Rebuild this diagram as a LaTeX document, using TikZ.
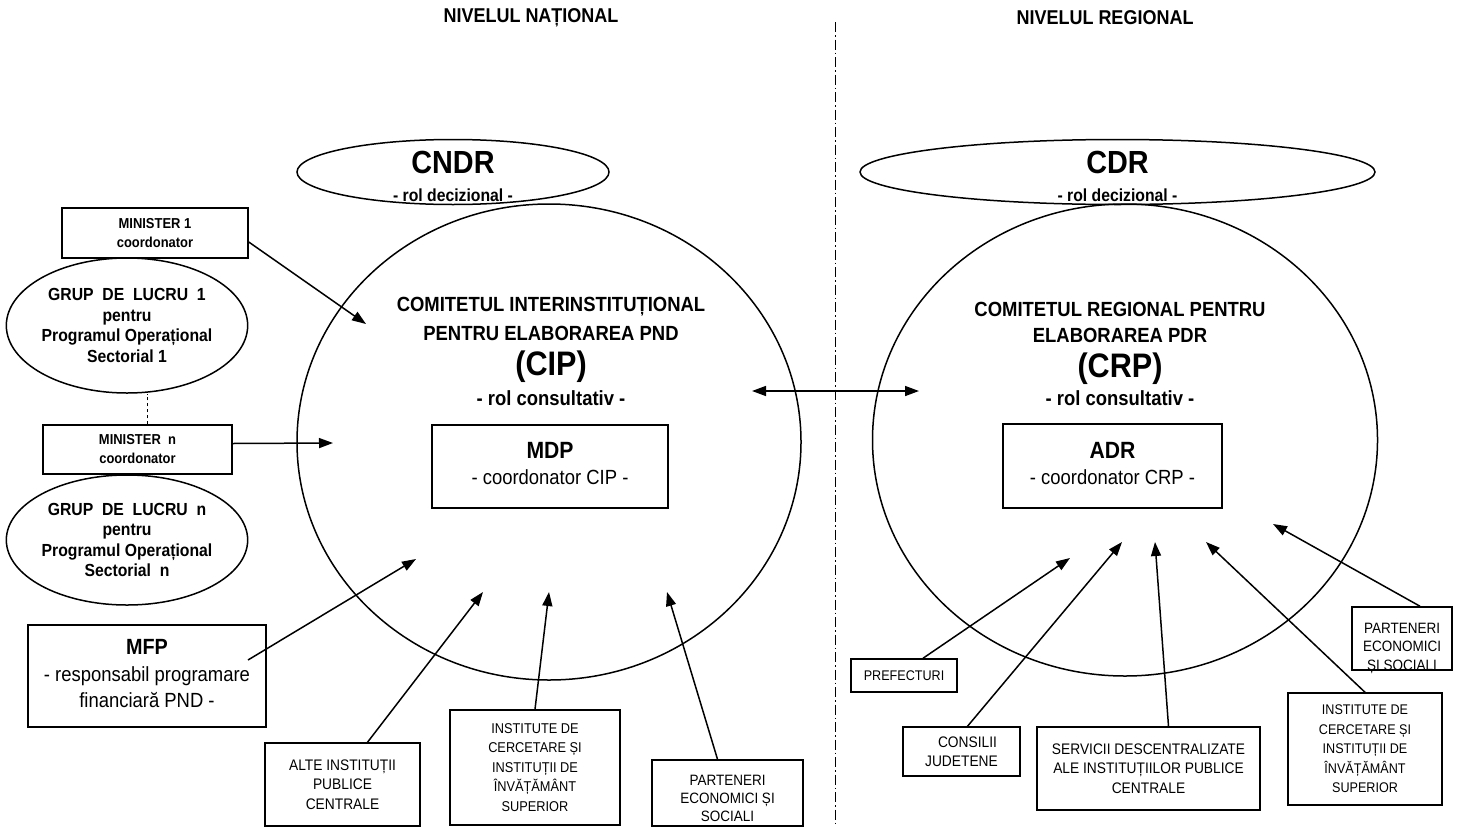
\documentclass[tikz,border=0pt]{standalone}
\usepackage{fontspec}
\setmainfont{Liberation Sans}[FakeStretch=0.9]
\usetikzlibrary{shapes.geometric,arrows.meta,calc}
\newcommand{\fsz}[2]{\fontsize{#1}{#2}\selectfont}
\begin{document}
\begin{tikzpicture}[x=1pt,y=-1pt,
  lw/.style={line width=1.5pt},
  bx/.style={draw,lw,inner sep=0pt,align=center},
  ell/.style={draw,lw,ellipse,inner sep=0pt,align=center},
  arr/.style={lw,-{Triangle[length=14pt,width=10pt]}},
  darr/.style={lw,{Triangle[length=14pt,width=10pt]}-{Triangle[length=14pt,width=10pt]}},
  txt/.style={inner sep=0pt,align=center},
  head/.style={txt,font=\fsz{20}{22}\bfseries},
  big/.style={txt,font=\fsz{32}{32}\bfseries},
  dec/.style={txt,font=\fsz{17.5}{20}\bfseries},
  sub/.style={txt,font=\fsz{20.5}{22}\bfseries},
  smallb/.style={font=\fsz{14.4}{19}\bfseries},
  grup/.style={font=\fsz{17.5}{20.5}\bfseries},
  reg/.style={font=\fsz{15.3}{19.5}}
]
\useasboundingbox (0,0) rectangle (1482,827);

% headings and divider
\node[head] (hN) at (531,18) {NIVELUL NAȚIONAL};
\node[head] (hR) at (1105,18) {NIVELUL REGIONAL};
\coordinate (dtop) at (835,22);
\coordinate (dbot) at (835,827);
\draw[line width=0.8pt, dash pattern=on 10pt off 3pt on 1.5pt off 3pt] (dtop) -- (dbot);

% national level
\node[ell,minimum width=312,minimum height=65] (cndr) at (453,172) {};
\node[big] (cndrT) at (453,162) {CNDR};
\node[dec] (cndrS) at (453,195) {- rol decizional -};

\node[ell,minimum width=504,minimum height=476] (cip) at (549,442) {};
\node[sub] (cip1) at (551,307) {COMITETUL INTERINSTITUȚIONAL};
\node[sub] (cip2) at (551,333) {PENTRU ELABORAREA PND};
\node[txt,font=\fsz{34}{34}\bfseries] (cip3) at (551,367) {(CIP)};
\node[sub] (cip4) at (551,398) {- rol consultativ -};

\node[bx,minimum width=236,minimum height=83] (mdp) at (550,466.5) {};
\node[txt,font=\fsz{23.5}{24}\bfseries] (mdpT) at (550,450) {MDP};
\node[txt,font=\fsz{20.5}{22}] (mdpS) at (550,477) {- coordonator CIP -};

\node[bx,smallb,minimum width=186,minimum height=50] (m1) at (155,233) {MINISTER 1\\coordonator};
\node[ell,grup,minimum width=236,minimum height=135] (g1) at (127,325.5) {GRUP~~DE~~LUCRU~~1\\pentru\\Programul Operațional\\Sectorial 1};
\node[bx,smallb,minimum width=189,minimum height=49] (mn) at (137.5,449.5) {MINISTER~~n\\coordonator};
\node[ell,grup,minimum width=236,minimum height=130] (gn) at (127,540) {GRUP~~DE~~LUCRU~~n\\pentru\\Programul Operațional\\Sectorial~~n};
\draw[lw,dashed] ([xshift=10pt]mn.north) -- ([xshift=10pt]mn.north |- g1.south);

\node[bx,minimum width=238,minimum height=102] (mfp) at (147,676) {};
\node[txt,font=\fsz{22}{22}\bfseries] (mfpT) at (147,647) {MFP};
\node[txt,font=\fsz{20.5}{26}] (mfpS) at (147,687) {- responsabil programare\\financiară PND -};

\node[bx,reg,minimum width=155,minimum height=83] (alte) at (342.5,784.5) {ALTE INSTITUȚII\\PUBLICE\\CENTRALE};
\node[bx,font=\fsz{14.2}{19.5},minimum width=170,minimum height=115] (instL) at (535,767.5) {INSTITUTE DE\\CERCETARE ȘI\\INSTITUȚII DE\\ÎNVĂȚĂMÂNT\\SUPERIOR};
\node[bx,minimum width=151,minimum height=66] (partL) at (727.5,793) {};
\node[txt,font=\fsz{15}{18}] (partLT) at (727.5,798) {PARTENERI\\ECONOMICI ȘI\\SOCIALI};

% regional level
\node[ell,minimum width=515,minimum height=65] (cdr) at (1117.5,172) {};
\node[big] (cdrT) at (1117.5,162) {CDR};
\node[dec] (cdrS) at (1117.5,195) {- rol decizional -};

\node[ell,minimum width=505,minimum height=472] (crp) at (1125,440) {};
\node[sub] (crp1) at (1120,309) {COMITETUL REGIONAL PENTRU};
\node[sub] (crp2) at (1120,335) {ELABORAREA PDR};
\node[txt,font=\fsz{34}{34}\bfseries] (crp3) at (1120,369) {(CRP)};
\node[sub] (crp4) at (1120,398) {- rol consultativ -};

\node[bx,minimum width=219,minimum height=84] (adr) at (1112.5,466) {};
\node[txt,font=\fsz{23.5}{24}\bfseries] (adrT) at (1112.5,450) {ADR};
\node[txt,font=\fsz{20.5}{22}] (adrS) at (1112.5,477) {- coordonator CRP -};

\node[bx,font=\fsz{14}{19},minimum width=106,minimum height=33] (pref) at (904,675.5) {PREFECTURI};
\node[bx,reg,minimum width=117,minimum height=49] (cons) at (961.5,751.5) {\hspace*{12pt}CONSILII\\JUDETENE};
\node[bx,reg,minimum width=223,minimum height=83] (serv) at (1148.5,768.5) {SERVICII DESCENTRALIZATE\\ALE INSTITUȚIILOR PUBLICE\\CENTRALE};
\node[bx,font=\fsz{14}{19.5},minimum width=154,minimum height=112] (instR) at (1365,749) {INSTITUTE DE\\CERCETARE ȘI\\INSTITUȚII DE\\ÎNVĂȚĂMÂNT\\SUPERIOR};
\node[bx,minimum width=100,minimum height=63] (partR) at (1402,638.5) {};
\node[txt,font=\fsz{15}{18.5}] (partRT) at (1402,648) {PARTENERI\\ECONOMICI\\ȘI SOCIALI};

% arrow targets
\coordinate (t1) at (366,324);
\coordinate (t2) at (333,443);
\coordinate (t3) at (416,559);
\coordinate (t4) at (483,592);
\coordinate (t5) at (549,592);
\coordinate (t6) at (667,592);
\coordinate (dl) at (752,391);
\coordinate (dr) at (919,391);
\coordinate (u1) at (1070,558);
\coordinate (u2) at (1122,542);
\coordinate (u3) at (1155,542);
\coordinate (u4) at (1206,542);
\coordinate (u5) at (1273,524);
\coordinate (mfpS2) at (248,660);

% arrows national
\draw[arr] ([yshift=-9pt]m1.east) -- (t1);
\draw[arr] ([yshift=6pt]mn.east) -- (t2);
\draw[arr] (mfpS2) -- (t3);
\draw[arr] ([xshift=25pt]alte.north) -- (t4);
\draw[arr] (instL.north) -- (t5);
\draw[arr] ([xshift=-10pt]partL.north) -- (t6);
\draw[darr] (dl) -- (dr);

% arrows regional
\draw[arr] ([xshift=19pt]pref.north) -- (u1);
\draw[arr] ([xshift=6pt]cons.north) -- (u2);
\draw[arr] ([xshift=20pt]serv.north) -- (u3);
\draw[arr] (instR.north) -- (u4);
\draw[arr] ([xshift=18pt]partR.north) -- (u5);
\end{tikzpicture}
\end{document}
